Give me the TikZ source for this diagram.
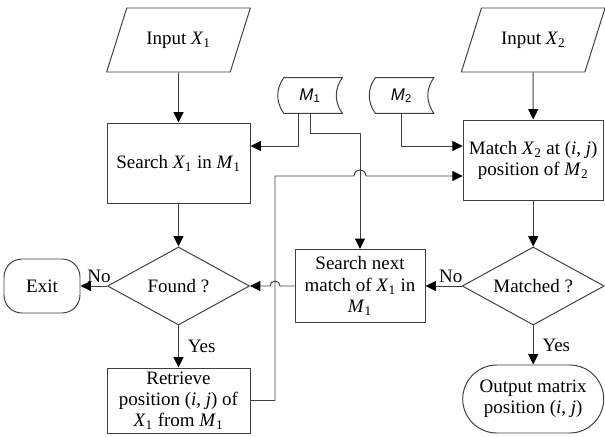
\documentclass[tikz,border=0pt]{standalone}
\usepackage{fontspec}
\setmainfont{Liberation Serif}
\setsansfont{Liberation Sans}
\usepackage{tikz}
\usetikzlibrary{shapes.geometric}
\usetikzlibrary{arrows.meta}
\newcommand{\mvar}[2]{\textit{#1}\textsubscript{#2}}

\begin{document}
\begin{tikzpicture}[
	every node/.style={font=\fontsize{13.5}{15}\selectfont},
	line/.style={draw=black!75, line width=0.7pt},
	flow/.style={line, -{Triangle[length=2.6mm, width=2.5mm, color=black]}},
	proc/.style={line, rectangle, minimum width=3.575cm, minimum height=2cm, align=center, inner sep=1pt},
	io/.style={line, trapezium, trapezium left angle=61, trapezium right angle=119, trapezium stretches=true, minimum width=3.6cm, minimum height=1.6cm},
	decide/.style={line, diamond, aspect=1.8, minimum width=3.55cm, minimum height=1.95cm, inner sep=0pt},
	term/.style={line, rectangle, rounded corners=#1, align=center},
	store/.style={minimum width=1.6cm, minimum height=0.875cm, inner sep=0pt, font=\sffamily\fontsize{12}{14}\selectfont},
	lbl/.style={inner sep=2pt}
]
	\useasboundingbox (0,0) rectangle (15.125,10.9);
	\node[io] (X1) at (4.4625,9.9) {Input \mvar{X}{1}};
	\node[proc] (Search) at (4.4625,6.825) {Search \mvar{X}{1} in \mvar{M}{1}};
	\node[decide] (Found) at (4.4625,3.75) {Found ?};
	\node[term=4.5mm, minimum width=1.9cm, minimum height=1.35cm] (Exit) at (1.05,3.75) {Exit};
	\node[proc, minimum height=1.625cm] (Retrieve) at (4.4625,0.8875) {Retrieve\\position (\textit{i}, \textit{j}) of\\\mvar{X}{1} from \mvar{M}{1}};
	\node[store] (M1) at (7.75,8.5125) {\textit{M}\textsubscript{1}};
	\node[store] (M2) at (10.0375,8.5125) {\textit{M}\textsubscript{2}};
	\node[io] (X2) at (13.33,9.9) {Input \mvar{X}{2}};
	\node[proc, minimum width=3.5cm] (Match) at (13.33,6.9) {Match \mvar{X}{2} at (\textit{i}, \textit{j})\\position of \mvar{M}{2}};
	\node[proc, minimum width=3.25cm, minimum height=1.825cm] (Next) at (9.0,3.75) {Search next\\match of \mvar{X}{1} in\\\mvar{M}{1}};
	\node[decide] (Matched) at (13.33,3.75) {Matched ?};
	\node[term=8.5mm, minimum width=3.525cm, minimum height=1.7cm] (Out) at (13.33,0.925) {Output matrix\\position (\textit{i}, \textit{j})};

	\foreach \m in {M1,M2}
		\draw[line] ([xshift=1.5mm]\m.north west) -- (\m.north east) to[bend right=35] (\m.south east) -- ([xshift=1.5mm]\m.south west) to[bend left=35] ([xshift=1.5mm]\m.north west) -- cycle;

	\draw[flow] (X1) -- (Search);
	\draw[flow] (Search) -- (Found);
	\draw[flow] (Found) -- node[lbl, above, pos=0.3] {No} (Exit);
	\draw[flow] (Found) -- node[lbl, right, xshift=1.5mm] {Yes} (Retrieve);
	\draw[flow] ([xshift=-3mm]M1.south) |- ([yshift=4.25mm]Search.east);
	\draw[flow] (M1.south) -- ++(0,-0.5) -| (Next.north);
	\draw[flow] (M2.south) |- ([yshift=3.5mm]Match.west);
	\draw[flow] (X2) -- (Match);
	\draw[flow] (Match) -- (Matched);
	\draw[flow] (Matched) -- node[lbl, above, pos=0.3] {No} (Next);
	\draw[flow] (Matched) -- node[lbl, right, xshift=1.5mm] {Yes} (Out);
	\coordinate (hop) at (6.875,6.5);
	\draw[flow] (Retrieve.east) -| (hop) -- ([xshift=-1.5mm]hop -| Next.north) arc[start angle=180, end angle=0, radius=1.5mm] -- (hop -| Match.west);
	\draw[flow] (Next.west) -- ([xshift=1.25mm]Next.west -| hop) arc[start angle=0, end angle=180, radius=1.25mm] -- (Found.east);
\end{tikzpicture}
\end{document}
